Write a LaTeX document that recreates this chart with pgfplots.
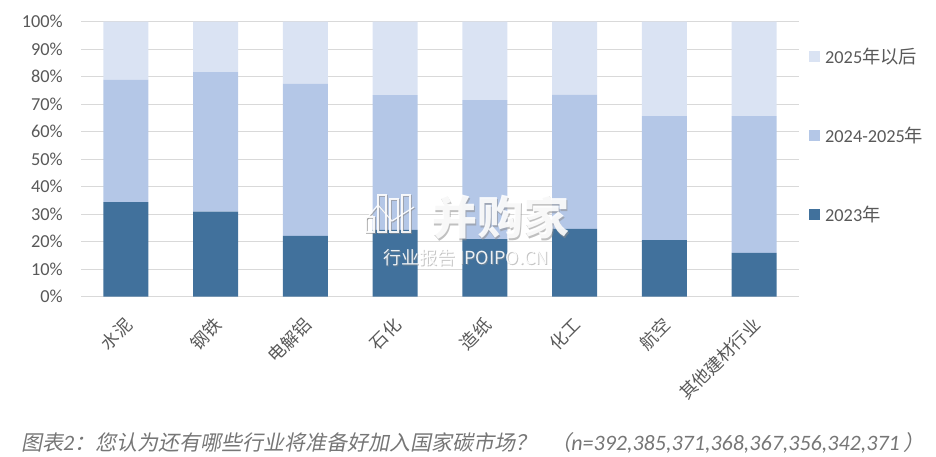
\documentclass[border=0pt]{standalone}
\usepackage{fontspec}
\setmainfont{Carlito}
\newfontfamily\cjk{Noto Sans CJK SC}
\newfontfamily\cjkit{Noto Sans CJK SC}[FakeSlant=0.2]
\usepackage{pgfplots}
\pgfplotsset{compat=1.18}
\definecolor{cDark}{HTML}{41719C}
\definecolor{cMid}{HTML}{B4C7E7}
\definecolor{cLight}{HTML}{DAE3F3}
\definecolor{cText}{HTML}{595959}
\definecolor{cGrid}{HTML}{D9D9D9}
\definecolor{cCap}{HTML}{767676}
\begin{document}
\begin{tikzpicture}
\path[use as bounding box] (0,0) rectangle (936bp,457bp);
\begin{axis}[
  at={(81bp,160.3bp)}, anchor=south west,
  scale only axis, width=718bp, height=275bp,
  ybar stacked, bar width=45bp,
  xmin=-0.5, xmax=7.5, ymin=0, ymax=100,
  enlargelimits=false,
  axis x line*=bottom, axis y line*=left,
  y axis line style={draw=none},
  x axis line style={draw=cGrid, line width=1bp},
  ymajorgrids, major grid style={draw=cGrid, line width=1bp},
  major tick length=0pt,
  ytick={0,10,...,100},
  yticklabel={\pgfmathprintnumber{\tick}\%},
  /pgf/number format/assume math mode=true,
  yticklabel style={font=\fontsize{18.3bp}{20bp}\selectfont, text=cText, anchor=east, inner sep=0pt, xshift=-18bp},
  xtick={0,...,7},
  xticklabels={水泥,钢铁,电解铝,石化,造纸,化工,航空,其他建材行业},
  xticklabel style={font=\cjk\fontsize{17.5bp}{20bp}\selectfont, text=black!65, xshift=3bp, yshift=-25bp, rotate=45, anchor=east, inner sep=0pt},
  reverse legend,
  legend cell align=left,
  legend image code/.code={\fill[#1] (0bp,-5.5bp) rectangle (11bp,5.5bp);},
  legend style={draw=none, fill=none, at={(1.0139,0.905)}, anchor=north west, inner sep=0pt, row sep=62bp,
     font=\fontsize{18.3bp}{20bp}\selectfont, text=cText,
     nodes={inner sep=0pt}},
  /tikz/every odd column/.append style={column sep=5bp},
]
\addplot[fill=cDark, draw=none] coordinates {(0,34.4) (1,30.9) (2,22.1) (3,24.3) (4,20.9) (5,24.7) (6,20.6) (7,15.9)};
\addplot[fill=cMid, draw=none] coordinates {(0,44.5) (1,50.8) (2,55.4) (3,49.0) (4,50.6) (5,48.8) (6,45.1) (7,49.8)};
\addplot[fill=cLight, draw=none] coordinates {(0,21.1) (1,18.3) (2,22.5) (3,26.7) (4,28.5) (5,26.5) (6,34.3) (7,34.3)};
\legend{2023{\cjk 年},2024-2025{\cjk 年},2025{\cjk 年以后}}
\end{axis}
% watermark
\begin{scope}
\node[text=black!45, opacity=0.55, font=\cjk\bfseries\fontsize{46bp}{48bp}\selectfont, anchor=center] at (501.5bp,238.5bp) {并购家};
\node[text=white, opacity=0.9, font=\cjk\bfseries\fontsize{46bp}{48bp}\selectfont, anchor=center] at (500bp,240bp) {并购家};
\node[text=black!45, opacity=0.5, font=\cjk\fontsize{18bp}{20bp}\selectfont, anchor=center] at (467bp,198bp) {行业报告 IPOIPO.CN};
\node[text=white, opacity=0.9, font=\cjk\fontsize{18bp}{20bp}\selectfont, anchor=center] at (466bp,199bp) {行业报告 IPOIPO.CN};
\begin{scope}[opacity=0.6, black!45, line width=1.5bp, shift={(1bp,-1bp)}]
\draw (366bp,225bp) rectangle (374bp,240bp);
\draw (378bp,225bp) rectangle (386bp,262bp);
\draw (390bp,225bp) rectangle (398bp,258bp);
\draw (402bp,225bp) rectangle (410bp,262bp);
\draw[line width=1.2bp] (366bp,238bp) -- (378bp,252bp) -- (392bp,236bp) -- (414bp,250bp);
\end{scope}
\begin{scope}[opacity=0.9, white, line width=1.5bp]
\draw (366bp,225bp) rectangle (374bp,240bp);
\draw (378bp,225bp) rectangle (386bp,262bp);
\draw (390bp,225bp) rectangle (398bp,258bp);
\draw (402bp,225bp) rectangle (410bp,262bp);
\draw[line width=1.2bp] (366bp,238bp) -- (378bp,252bp) -- (392bp,236bp) -- (414bp,250bp);
\end{scope}
\end{scope}
\node[anchor=west, text=cCap, inner sep=0pt] at (21bp,14bp) {\cjkit\fontsize{21bp}{23bp}\selectfont 图表{\itshape\rmfamily\fontsize{22bp}{23bp}\selectfont 2}：您认为还有哪些行业将准备好加入国家碳市场？\hspace{14bp}（{\itshape\rmfamily\fontsize{22bp}{23bp}\selectfont n=392,385,371,368,367,356,342,371\,}）};
\end{tikzpicture}
\end{document}
